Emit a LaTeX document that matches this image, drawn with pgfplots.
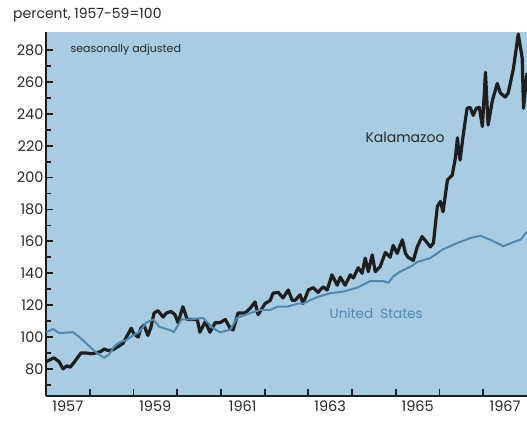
\documentclass[border=0pt]{standalone}
\usepackage{pgfplots}
\pgfplotsset{compat=1.18}
\usepackage{fontspec}
\setmainfont{Poppins}
\usetikzlibrary{calc}
\definecolor{bgblue}{RGB}{168,204,226}
\definecolor{usblue}{RGB}{78,138,175}
\definecolor{ink}{RGB}{30,30,30}
\definecolor{txt}{RGB}{40,40,40}
\begin{document}
\begin{tikzpicture}
\begin{axis}[name=ax, scale only axis, width=481pt, height=364pt,
  xmin=1957, xmax=1968, ymin=63, ymax=291.3,
  axis x line*=bottom, axis y line*=left,
  axis line style={line width=2.2pt, ink},
  axis background/.style={fill=bgblue},
  xtick={1958,...,1967}, xticklabels={},
  extra x ticks={1957.5,1959.5,1961.5,1963.5,1965.5,1967.5},
  extra x tick labels={1957,1959,1961,1963,1965,1967},
  extra x tick style={major tick length=0pt},
  ytick={80,100,...,280},
  minor ytick={70,90,...,270},
  tick align=inside,
  major tick length=7pt, minor tick length=5pt,
  every tick/.style={line width=1.8pt, ink},
  /pgf/number format/assume math mode=true,
  ticklabel style={font=\fontsize{14.5}{15}\selectfont, text=txt},
  yticklabel style={xshift=1pt},
  xticklabel style={yshift=-1pt},
]
\addplot[line width=3.2pt, ink, line join=round] coordinates {
(1957.00,84.4)(1957.18,87)(1957.30,84.5)(1957.39,80)(1957.48,82)(1957.55,81)(1957.64,84)
(1957.80,90)(1957.92,90)(1958.03,89.5)(1958.14,90)(1958.26,91)(1958.33,92.5)(1958.42,91.5)
(1958.53,92)(1958.65,94)(1958.76,96)(1958.88,102)(1958.95,105.5)(1959.01,102)(1959.11,100)
(1959.17,105.5)(1959.24,107.5)(1959.33,101)(1959.40,106)(1959.47,115)(1959.56,116.5)
(1959.68,112.5)(1959.75,115)(1959.86,116)(1959.95,114)(1960.02,109)(1960.13,119)
(1960.23,111)(1960.34,111)(1960.46,111)(1960.52,103)(1960.64,109.5)(1960.75,103)
(1960.87,109)(1960.98,109)(1961.10,111)(1961.21,105.5)(1961.28,104.5)(1961.39,115)
(1961.55,115)(1961.67,118)(1961.78,122)(1961.85,114)(1962.01,121)(1962.13,123)
(1962.19,127.5)(1962.31,128)(1962.42,124.5)(1962.54,129.5)(1962.63,123)(1962.70,123)
(1962.81,126.5)(1962.88,121)(1963.00,129.5)(1963.11,131)(1963.22,128)(1963.34,131.5)
(1963.43,129.5)(1963.54,139)(1963.66,132.5)(1963.73,137.5)(1963.84,132.5)(1963.96,139)
(1964.03,137)(1964.14,143.5)(1964.23,140)(1964.30,149.5)(1964.37,141)(1964.46,151.5)
(1964.53,141)(1964.64,144)(1964.76,153)(1964.87,150)(1964.94,157.5)(1965.03,152.5)
(1965.15,161)(1965.22,152.5)(1965.28,150)(1965.40,148)(1965.49,156.5)(1965.60,163)
(1965.72,159)(1965.79,156.5)(1965.86,159)(1965.95,182)(1966.02,185)(1966.08,178.5)
(1966.18,198.5)(1966.29,201.5)(1966.36,212)(1966.41,225)(1966.43,218.5)(1966.47,211)
(1966.54,226.5)(1966.63,243.5)(1966.70,244)(1966.77,239)(1966.84,243.5)(1966.91,244)
(1966.98,232)(1967.05,266)(1967.11,233)(1967.21,248.5)(1967.32,259)(1967.39,253)
(1967.50,250.5)(1967.57,253)(1967.69,268.5)(1967.80,290)(1967.89,275)(1967.92,243.5)
(1968.00,265.5)
};
\addplot[line width=2pt, usblue, line join=round] coordinates {
(1957.00,103)(1957.16,105)(1957.30,102.5)(1957.62,103)(1957.76,100)(1957.92,96)
(1958.08,92)(1958.21,89)(1958.33,87)(1958.44,89)(1958.56,94)(1958.67,96.5)(1958.83,98)
(1958.99,101)(1959.13,103)(1959.29,109)(1959.45,111)(1959.59,106.5)(1959.70,105.5)
(1959.86,104)(1959.92,103)(1960.10,111)(1960.30,111)(1960.59,112)(1960.82,105.5)
(1960.98,103)(1961.21,104.5)(1961.37,112)(1961.67,115)(1961.90,117)(1962.13,117)
(1962.29,119)(1962.51,119)(1962.77,121)(1962.88,121)(1963.20,125)(1963.50,127.5)
(1963.80,128.5)(1964.12,131)(1964.41,135)(1964.71,135)(1964.83,134)(1964.94,138)
(1965.10,141)(1965.33,144)(1965.49,147)(1965.79,149.5)(1966.08,155)(1966.41,159)
(1966.70,162)(1966.93,163.5)(1967.16,161)(1967.46,157)(1967.69,159.5)(1967.85,161)
(1968.00,166)
};
\node[anchor=west, font=\fontsize{11}{11}\selectfont, text=txt] at (axis cs:1957.48,280) {seasonally adjusted};
\node[font=\fontsize{14}{14}\selectfont, text=txt] at (axis cs:1965.21,225.5) {Kalamazoo};
\node[font=\fontsize{13.5}{14}\selectfont, text=usblue] at (axis cs:1964.55,115) {United\ \ States};
\end{axis}
\node[anchor=west, inner sep=0pt, font=\fontsize{14}{14}\selectfont, text=txt] at ($(ax.north west)+(-33pt,17pt)$) {percent, 1957-59=100};
\pgfresetboundingbox
\path ($(ax.south west)+(-46pt,-25pt)$) rectangle ($(ax.north east)+(0,32pt)$);
\end{tikzpicture}
\end{document}
